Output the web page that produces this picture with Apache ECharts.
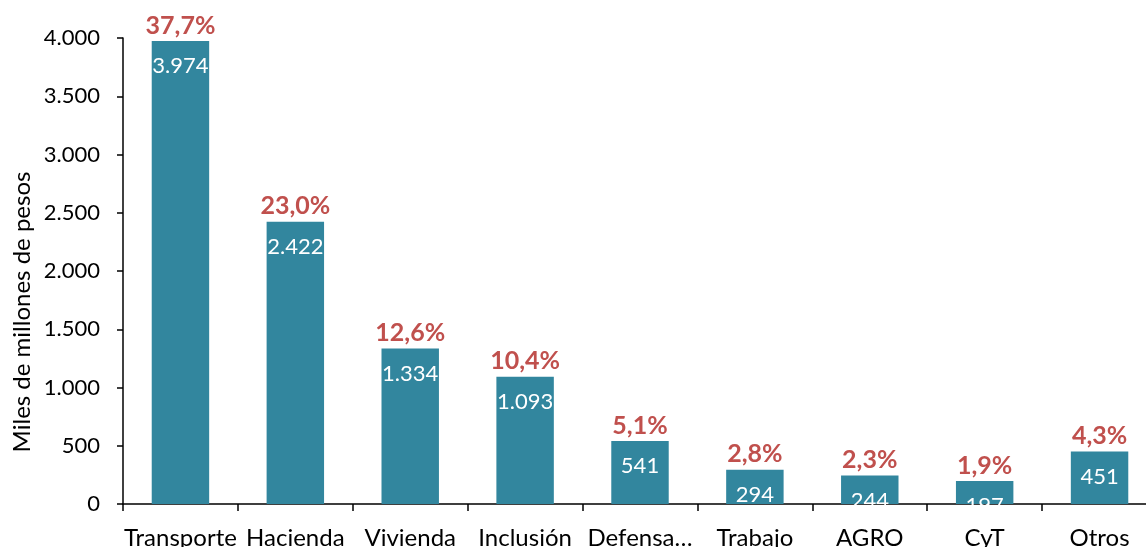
<!DOCTYPE html>
<html>
<head>
<meta charset="utf-8">
<script src="https://cdn.jsdelivr.net/npm/echarts@6/dist/echarts.min.js"></script>
<style>
html,body{margin:0;padding:0;background:#fff;}
#chart{width:1146px;height:547px;}
</style>
</head>
<body>
<div id="chart"></div>
<script>
var categories = ["Transporte", "Hacienda", "Vivienda", "Inclusión", "Defensa…", "Trabajo", "AGRO", "CyT", "Otros"];
var values = [3974, 2422, 1334, 1093, 541, 294, 244, 197, 451];
var shares = ["37,7%", "23,0%", "12,6%", "10,4%", "5,1%", "2,8%", "2,3%", "1,9%", "4,3%"];
var yTicks = [0, 500, 1000, 1500, 2000, 2500, 3000, 3500, 4000];
var yAxisTitle = "Miles de millones de pesos";

var FONT = "Lato";
function fmt(v) {
  return String(v).replace(/\B(?=(\d{3})+(?!\d))/g, ".");
}

var chart = echarts.init(document.getElementById('chart'), null, {renderer: 'canvas'});
chart.setOption({
  animation: false,
  backgroundColor: '#ffffff',
  grid: {left: 123, width: 1034, top: 38, bottom: 43, containLabel: false, outerBoundsMode: 'none'},
  xAxis: {
    type: 'category',
    data: categories,
    axisLine: {show: true, lineStyle: {color: '#000', width: 1.5}},
    axisTick: {show: true, alignWithLabel: false, length: 7, lineStyle: {color: '#000', width: 1.5}},
    axisLabel: {color: '#000', fontFamily: FONT, fontSize: 24, margin: 22, interval: 0}
  },
  yAxis: {
    type: 'value',
    min: yTicks[0],
    max: yTicks[yTicks.length - 1],
    interval: 500,
    axisLine: {show: true, lineStyle: {color: '#000', width: 1.5}},
    axisTick: {show: true, length: 6, lineStyle: {color: '#000', width: 1.5}},
    splitLine: {show: false},
    axisLabel: {color: '#000', fontFamily: FONT, fontSize: 22, margin: 23, formatter: function (v) { return fmt(v); }}
  },
  graphic: [{
    type: 'text',
    x: 22, y: 312,
    rotation: Math.PI / 2,
    style: {text: yAxisTitle, fill: '#000', font: '24px ' + FONT, textAlign: 'center', textVerticalAlign: 'middle'}
  }],
  series: [{
    type: 'bar',
    data: values,
    barWidth: '50%',
    itemStyle: {color: '#32869E'},
    label: {
      show: true, position: 'insideTop', distance: 14,
      color: '#fff', fontFamily: FONT, fontSize: 22,
      formatter: function (p) { return fmt(p.value); }
    }
  }, {
    type: 'bar',
    data: values,
    barWidth: '50%',
    barGap: '-100%',
    itemStyle: {color: 'rgba(0,0,0,0)'},
    label: {
      show: true, position: 'top', distance: 3,
      color: '#C0504D', fontFamily: FONT, fontSize: 25, fontWeight: 'bold',
      formatter: function (p) { return shares[p.dataIndex]; }
    }
  }]
});
</script>
</body>
</html>
